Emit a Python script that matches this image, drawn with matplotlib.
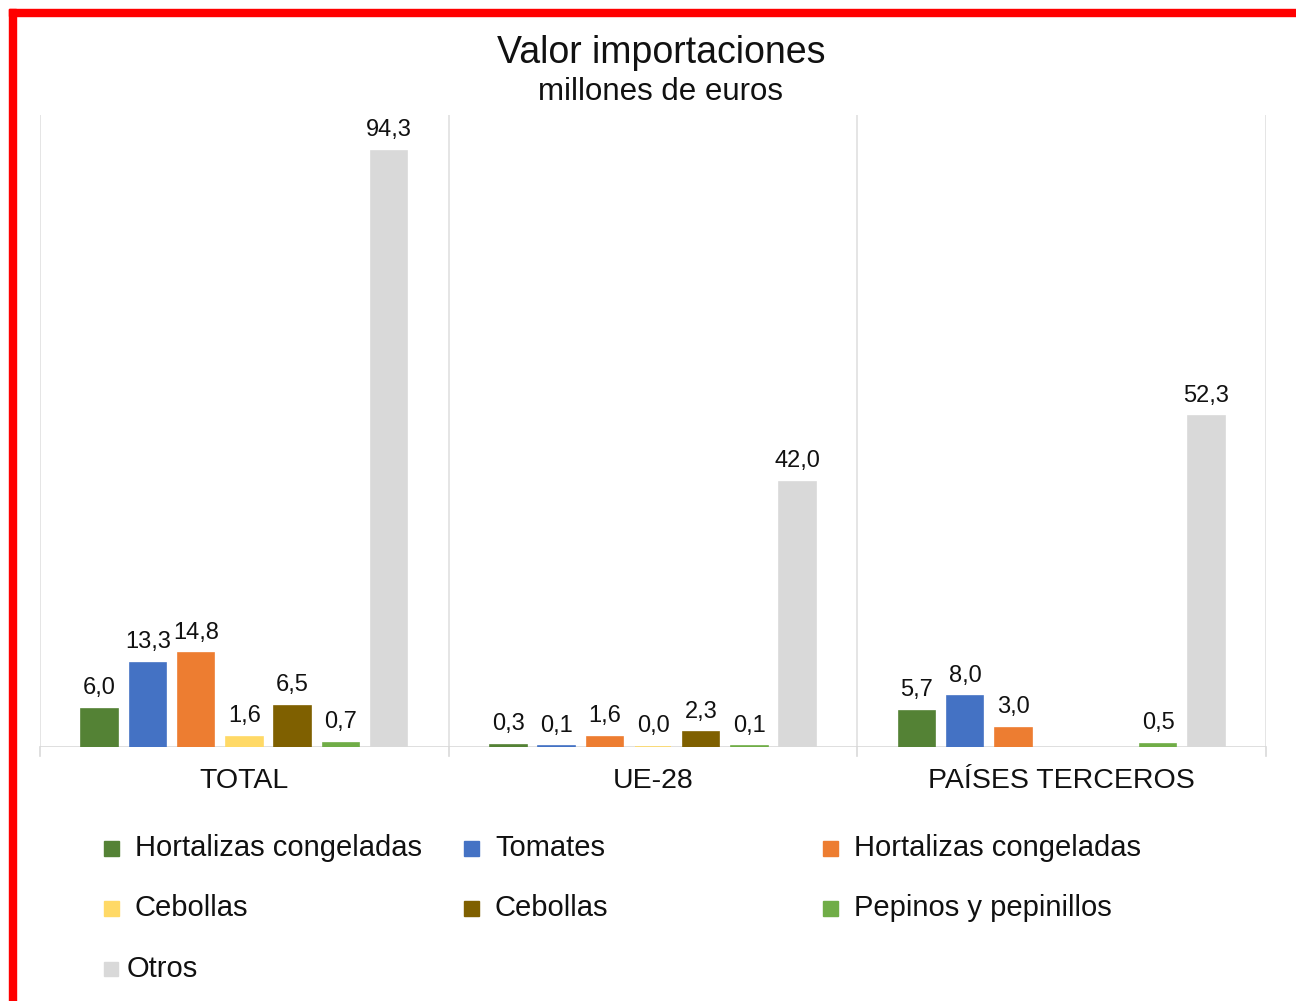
import numpy as np
import matplotlib.pyplot as plt
from matplotlib.patches import Rectangle

plt.rcParams['font.family'] = ['Liberation Sans', 'DejaVu Sans']

grupos = ["TOTAL", "UE-28", "PAÍSES TERCEROS"]
series = ["Hortalizas congeladas", "Tomates", "Hortalizas congeladas",
          "Cebollas", "Cebollas", "Pepinos y pepinillos", "Otros"]
colores = ["#548235", "#4472C4", "#ED7D31", "#FFD966", "#7F6000", "#70AD47", "#D9D9D9"]

# valores por serie (TOTAL, UE-28, PAISES TERCEROS); None = sin dato
hort_cong_1 = [6.0, 0.3, 5.7]
tomates = [13.3, 0.1, 8.0]
hort_cong_2 = [14.8, 1.6, 3.0]
cebollas_1 = [1.6, 0.0, None]
cebollas_2 = [6.5, 2.3, None]
pepinos = [0.7, 0.1, 0.5]
otros = [94.3, 42.0, 52.3]
valores = [hort_cong_1, tomates, hort_cong_2, cebollas_1, cebollas_2, pepinos, otros]

fig = plt.figure(figsize=(12.96, 10.01), dpi=100)
ax = fig.add_axes([40/1296, 1 - 747/1001, 1226/1296, 632/1001])

n = len(series)
slot = 0.118
ancho = 0.089
x = np.arange(len(grupos)) + 0.5
for i in range(n):
    pos = x + (i - (n - 1) / 2) * slot
    for j, v in enumerate(valores[i]):
        if v is None:
            continue
        ax.bar(pos[j], v, ancho, color=colores[i], edgecolor=colores[i], lw=1.2, zorder=3)
        ax.annotate(f"{v:.1f}".replace(".", ","), (pos[j], v),
                    xytext=(0, 7), textcoords="offset points",
                    ha="center", va="bottom", fontsize=17, color="#111111")

ax.set_xlim(0, 3)
ax.set_ylim(0, 100)
ax.set_yticks([])
for s in ax.spines.values():
    s.set_visible(False)
ax.axhline(0, color="#D9D9D9", lw=1.2, zorder=2)
for b in range(4):
    ax.axvline(b, color="#E0E0E0", lw=1.2, zorder=1)
    ax.plot([b, b], [0, -1.5], color="#D9D9D9", lw=1.2, clip_on=False)
ax.set_xticks(x)
ax.set_xticklabels(grupos, fontsize=20.5, color="#111111")
ax.tick_params(axis="x", length=0, pad=15)

fig.text(0.51, 1 - 53/1001, "Valor importaciones", ha="center", va="center",
         fontsize=27, color="#111111")
fig.text(0.51, 1 - 92/1001, "millones de euros", ha="center", va="center",
         fontsize=22.5, color="#111111")

# leyenda en filas de 3
col_x = [104, 464, 823]
fila_y = [848, 908, 969]
for i, nombre in enumerate(series):
    cx = col_x[i % 3]
    cy = fila_y[i // 3]
    tam = 15 if nombre != "Otros" else 14
    fig.patches.append(Rectangle((cx / 1296, 1 - (cy + tam / 2) / 1001), tam / 1296, tam / 1001,
                                 transform=fig.transFigure, color=colores[i], figure=fig))
    tx = cx + 31 if nombre != "Otros" else cx + 23
    fig.text(tx / 1296, 1 - cy / 1001, nombre, ha="left", va="center",
             fontsize=21, color="#111111")

# marco rojo
fig.patches.append(Rectangle((9 / 1296, 0), 7 / 1296, 1 - 9 / 1001,
                             transform=fig.transFigure, color="red", figure=fig))
fig.patches.append(Rectangle((9 / 1296, 1 - 16 / 1001), 1, 7 / 1001,
                             transform=fig.transFigure, color="red", figure=fig))

fig.savefig("out.png", dpi=100)
